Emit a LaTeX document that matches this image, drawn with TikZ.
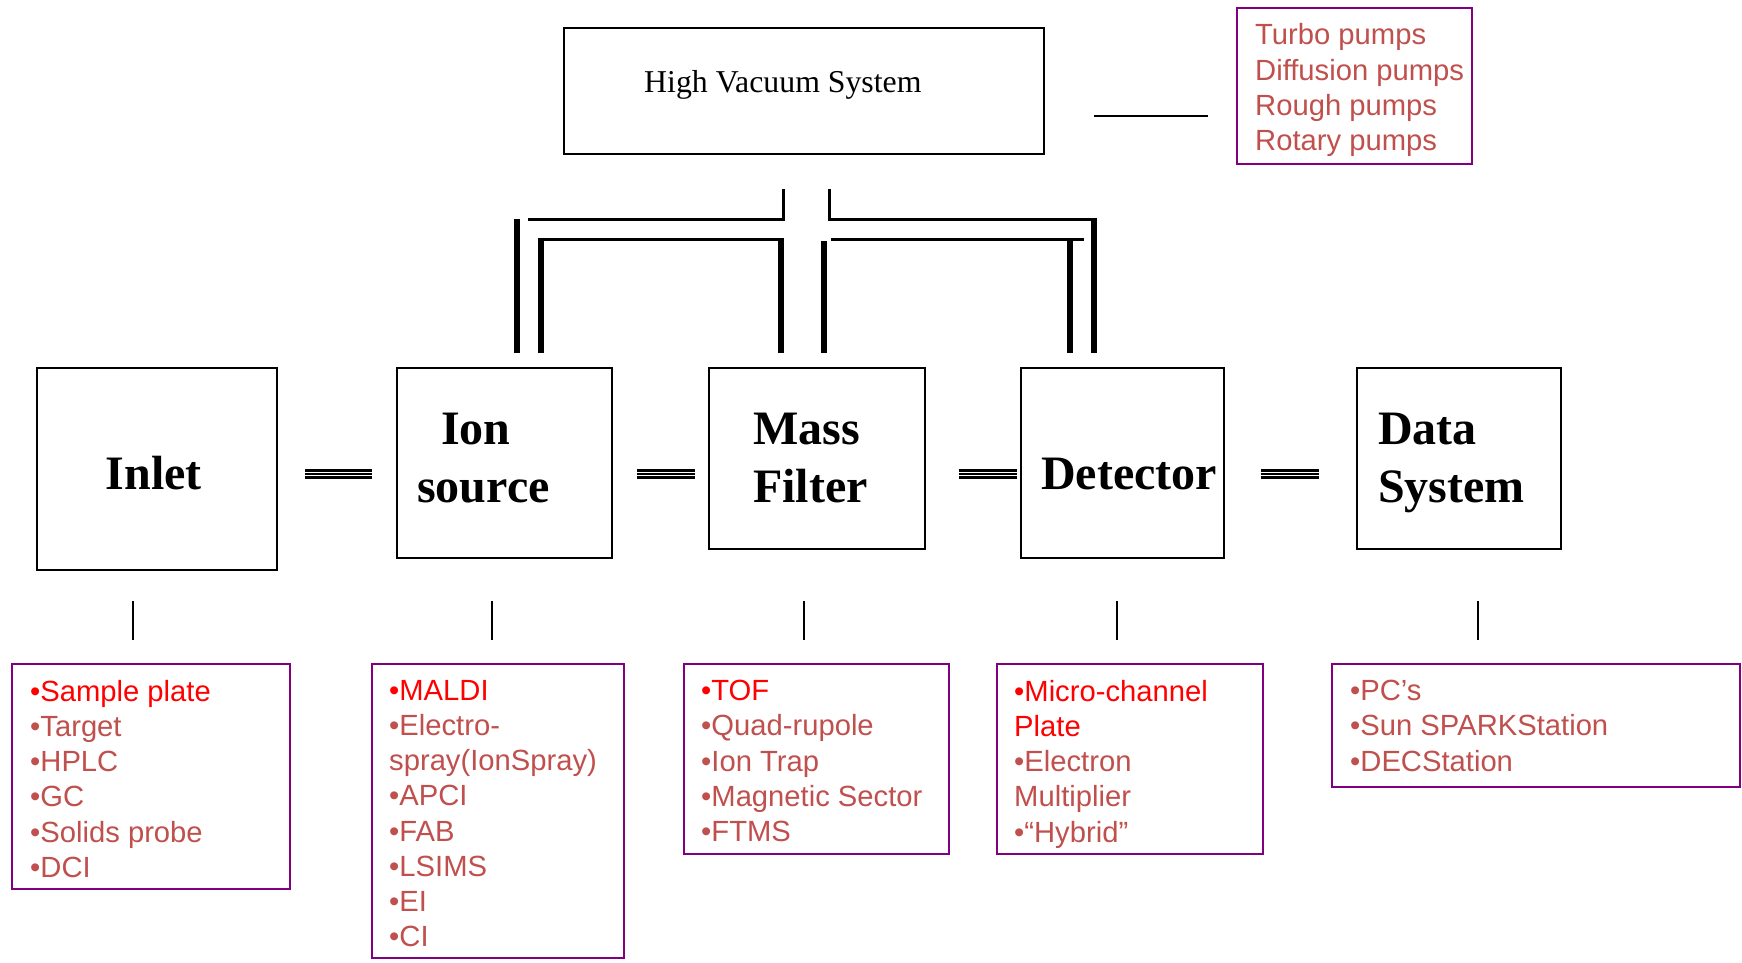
\documentclass[tikz,border=0pt]{standalone}
\usepackage{fontspec}
\setmainfont{Liberation Serif}
\newfontfamily\lsans{Liberation Sans}
\definecolor{listred}{RGB}{192,80,77}
\definecolor{hotred}{RGB}{255,0,0}
\definecolor{boxpurple}{RGB}{128,0,128}
\begin{document}
\begin{tikzpicture}[x=1pt,y=-1pt,
 mainbox/.style={draw=black,line width=2.5pt,inner sep=0pt},
 bigfont/.style={font=\fontsize{48}{57}\selectfont\bfseries},
 biglabel/.style={bigfont,inner sep=0pt,anchor=base west},
 listbox/.style={draw=boxpurple,line width=2.8pt,align=left,inner xsep=17pt,inner ysep=0pt,
   font=\lsans\fontsize{29.2}{35.2}\selectfont,text=listred},
 listtext/.style={align=left,inner sep=0pt,anchor=north west,
   font=\lsans\fontsize{29.2}{35.2}\selectfont,text=listred},
 pipev/.style={line width=5.5pt},
 pipeh/.style={line width=3pt},
 ticklink/.style={line width=2.5pt},
 trilink/.style={line width=2.3pt}
]
\useasboundingbox[fill=white] (0,0) rectangle (1742,962);

% top system
\node[mainbox,minimum width=480pt,minimum height=126pt] (hvs) at (804,91) {};
\node[inner sep=0pt,anchor=base west,font=\fontsize{31.8}{38}\selectfont] (hvstext) at (644,92) {High Vacuum System};
\node[listbox,inner xsep=18pt,text width=199pt,minimum height=156pt] (pumps) at (1354.5,86) {};
\node[listtext] (pumpstext) at (1255,23.5)
 {Turbo pumps\\Diffusion pumps\\Rough pumps\\Rotary pumps};
\coordinate (hvsR) at (1094,116);
\coordinate (pumpsL) at (1208,116);
\draw[line width=2.5pt] (hvsR) -- (pumpsL);

% main boxes
\node[mainbox,minimum width=240pt,minimum height=202pt] (inlet) at (157,469) {};
\node[biglabel] (inletA) at (105.5,489) {Inlet};
\node[mainbox,minimum width=215pt,minimum height=190pt] (ion) at (504.5,463) {};
\node[biglabel] (ionA) at (441,444) {Ion};
\node[biglabel] (ionB) at (417,502) {source};
\node[mainbox,minimum width=216pt,minimum height=181pt] (mass) at (817,458.5) {};
\node[biglabel] (massA) at (753,444) {Mass};
\node[biglabel] (massB) at (753,502) {Filter};
\node[mainbox,minimum width=203pt,minimum height=190pt] (det) at (1122.5,463) {};
\node[biglabel] (detA) at (1041,489) {Detector};
\node[mainbox,minimum width=204pt,minimum height=181pt] (data) at (1459,458.5) {};
\node[biglabel] (dataA) at (1378,444) {Data};
\node[biglabel] (dataB) at (1378,502) {System};

% triple links between main boxes
\foreach \a/\b [count=\i] in {305/372, 637/695, 959/1017, 1261/1319}{
  \coordinate (tl\i a) at (\a,474);
  \coordinate (tl\i b) at (\b,474);
  \draw[trilink] ([yshift=-3.4pt]tl\i a) -- ([yshift=-3.4pt]tl\i b);
  \draw[trilink] (tl\i a) -- (tl\i b);
  \draw[trilink] ([yshift=3.4pt]tl\i a) -- ([yshift=3.4pt]tl\i b);
}

% vacuum pipes
\draw[pipeh] (783,189) -- (783,219) -- (528,219);
\draw[pipev] (517,219) -- (517,353);
\draw[pipeh] (539,239) -- (782.5,239);
\draw[pipev] (541,237.5) -- (541,353);
\draw[pipev] (781,237.5) -- (781,353);
\draw[pipeh] (829,189) -- (829,219) -- (1095.5,219);
\draw[pipev] (1094,217.5) -- (1094,353);
\draw[pipev] (824,241) -- (824,353);
\draw[pipeh] (831,239) -- (1084,239);
\draw[pipev] (1070,239) -- (1070,353);

% ticks down to lists
\foreach \x [count=\i] in {133,492,804,1117,1478}{
  \coordinate (tk\i a) at (\x,601);
  \coordinate (tk\i b) at (\x,640);
  \draw[ticklink] (tk\i a) -- (tk\i b);
}

% list boxes
\node[listbox,text width=244pt,minimum height=225pt] (inletlist) at (151,776.5) {};
\node[listbox,text width=218pt,minimum height=294pt] (ionlist) at (498,811) {};
\node[listbox,text width=231pt,minimum height=190pt] (masslist) at (816.5,759) {};
\node[listbox,text width=232pt,minimum height=190pt] (detlist) at (1130,759) {};
\node[listbox,text width=374pt,minimum height=123pt] (datalist) at (1536,725.5) {};

% list texts (first baseline at 701)
\node[listtext] (inlettext) at (30,680)
 {\textcolor{hotred}{•Sample plate}\\•Target\\•HPLC\\•GC\\•Solids probe\\•DCI};
\node[listtext] (iontext) at (389,680)
 {\textcolor{hotred}{•MALDI}\\•Electro-\\spray(IonSpray)\\•APCI\\•FAB\\•LSIMS\\•EI\\•CI};
\node[listtext] (masstext) at (701,680)
 {\textcolor{hotred}{•TOF}\\•Quad-rupole\\•Ion Trap\\•Magnetic Sector\\•FTMS};
\node[listtext] (dettext) at (1014,680)
 {\textcolor{hotred}{•Micro-channel}\\\textcolor{hotred}{Plate}\\•Electron\\Multiplier\\•“Hybrid”};
\node[listtext] (datatext) at (1350,680)
 {•PC’s\\•Sun SPARKStation\\•DECStation};
\end{tikzpicture}
\end{document}
